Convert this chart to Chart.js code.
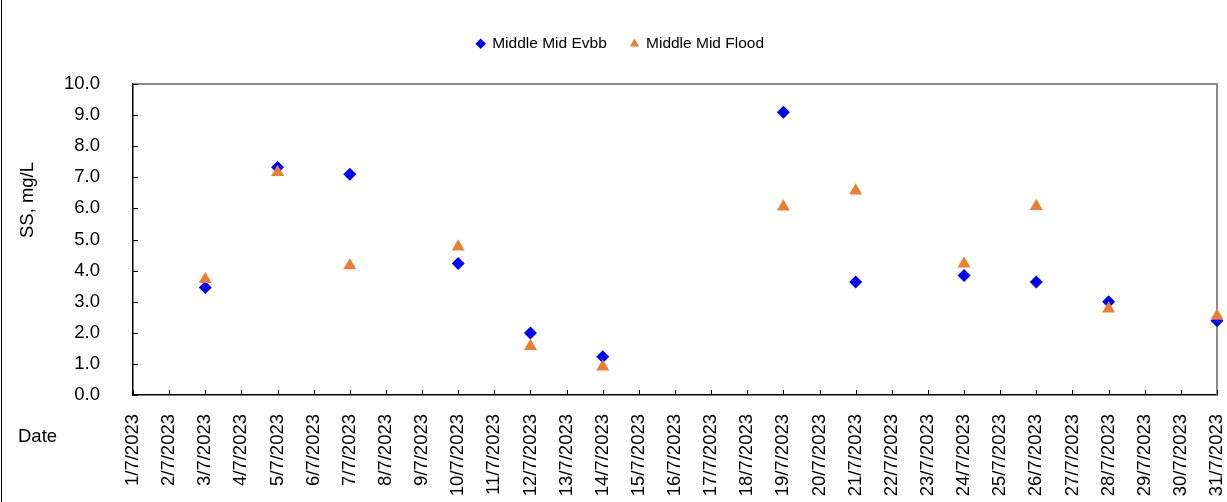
<!DOCTYPE html>
<html>
<head>
<meta charset="utf-8">
<script src="https://cdn.jsdelivr.net/npm/chart.js@4.4.1/dist/chart.umd.min.js"></script>
<style>
  html, body { margin: 0; padding: 0; background: #fff; }
</style>
</head>
<body>
<canvas id="chart" width="1227" height="502"></canvas>
<script>
const dateLabels = [
  '1/7/2023', '2/7/2023', '3/7/2023', '4/7/2023', '5/7/2023', '6/7/2023', '7/7/2023', '8/7/2023',
  '9/7/2023', '10/7/2023', '11/7/2023', '12/7/2023', '13/7/2023', '14/7/2023', '15/7/2023', '16/7/2023',
  '17/7/2023', '18/7/2023', '19/7/2023', '20/7/2023', '21/7/2023', '22/7/2023', '23/7/2023', '24/7/2023',
  '25/7/2023', '26/7/2023', '27/7/2023', '28/7/2023', '29/7/2023', '30/7/2023', '31/7/2023'
];
const sampleDates = ['3/7/2023', '5/7/2023', '7/7/2023', '10/7/2023', '12/7/2023', '14/7/2023',
  '19/7/2023', '21/7/2023', '24/7/2023', '26/7/2023', '28/7/2023', '31/7/2023'];
const ebbValues = [3.46, 7.32, 7.10, 4.23, 1.99, 1.23, 9.09, 3.63, 3.84, 3.63, 3.00, 2.39];
const floodValues = [3.72, 7.16, 4.16, 4.77, 1.57, 0.91, 6.05, 6.57, 4.22, 6.07, 2.77, 2.54];
const seriesNames = ['Middle Mid Evbb', 'Middle Mid Flood'];

const FONT = '"Liberation Sans", Arial, sans-serif';
Chart.defaults.font.family = FONT;
Chart.defaults.color = '#000';

const toPoints = vals => vals.map((v, i) => ({x: sampleDates[i], y: v}));

// tick marks point into the plot, plus grey top/right frame and loose texts
const framePlugin = {
  id: 'frame',
  afterInit(chart) {
    const legend = chart.legend;
    const fit = legend.fit;
    legend.fit = function() {
      fit.call(this);
      this.height = 72;
    };
  },
  beforeDatasetsDraw(chart) {
    const {ctx, chartArea: a, scales} = chart;
    ctx.save();
    ctx.strokeStyle = '#8c8c8c';
    ctx.lineWidth = 2;
    ctx.beginPath();
    ctx.moveTo(a.left, a.top);
    ctx.lineTo(a.right, a.top);
    ctx.lineTo(a.right, a.bottom);
    ctx.stroke();

    ctx.strokeStyle = '#000';
    ctx.lineWidth = 1;
    ctx.beginPath();
    scales.x.ticks.forEach((t, i) => {
      const px = Math.round(scales.x.getPixelForTick(i)) + 0.5;
      ctx.moveTo(px, a.bottom);
      ctx.lineTo(px, a.bottom - 5);
    });
    scales.y.ticks.forEach((t, i) => {
      const py = Math.round(scales.y.getPixelForTick(i)) + 0.5;
      ctx.moveTo(a.left, py);
      ctx.lineTo(a.left + 5, py);
    });
    ctx.stroke();
    ctx.restore();
  },
  afterDraw(chart) {
    const ctx = chart.ctx;
    ctx.save();
    ctx.strokeStyle = '#000';
    ctx.lineWidth = 1;
    ctx.beginPath();
    ctx.moveTo(1.5, 0);
    ctx.lineTo(1.5, chart.height);
    ctx.stroke();

    ctx.fillStyle = '#000';
    ctx.font = '18.5px ' + FONT;
    ctx.textBaseline = 'middle';
    ctx.textAlign = 'left';
    ctx.fillText('Date', 18, 437);

    ctx.translate(28, 200);
    ctx.rotate(-Math.PI / 2);
    ctx.textAlign = 'center';
    ctx.fillText('SS, mg/L', 0, 0);
    ctx.restore();
  }
};

new Chart(document.getElementById('chart'), {
  type: 'line',
  data: {
    labels: dateLabels,
    datasets: [
      {
        label: seriesNames[0],
        data: toPoints(ebbValues),
        showLine: false,
        pointStyle: 'rectRot',
        pointRadius: 6.5,
        pointHoverRadius: 6.5,
        backgroundColor: '#0000ff',
        borderColor: '#0000ff',
        pointBorderWidth: 0,
        order: 1
      },
      {
        label: seriesNames[1],
        data: toPoints(floodValues),
        showLine: false,
        pointStyle: 'triangle',
        pointRadius: 7.5,
        pointHoverRadius: 7.5,
        backgroundColor: '#ed7d31',
        borderColor: '#ed7d31',
        pointBorderWidth: 0,
        order: 0
      }
    ]
  },
  options: {
    responsive: false,
    animation: false,
    layout: {padding: {top: 12, right: 10, left: 24, bottom: 0}},
    plugins: {
      tooltip: {enabled: false},
      legend: {
        position: 'top',
        labels: {
          usePointStyle: true,
          boxWidth: 7.5,
          boxHeight: 7.5,
          padding: 24,
          color: '#000',
          font: {size: 15.5},
          sort: (a, b) => a.datasetIndex - b.datasetIndex
        }
      }
    },
    scales: {
      x: {
        type: 'category',
        offset: false,
        grid: {display: false},
        border: {color: '#000', width: 1.5},
        ticks: {
          autoSkip: false,
          minRotation: 90,
          maxRotation: 90,
          padding: 11,
          color: '#000',
          font: {size: 18.5}
        },
        afterFit(scale) {
          scale.height = 107;
          scale.paddingLeft = 0;
          scale.paddingRight = 0;
        }
      },
      y: {
        min: 0,
        max: 10,
        grid: {display: false},
        border: {color: '#000', width: 1.5},
        ticks: {
          stepSize: 1,
          padding: 25,
          color: '#000',
          font: {size: 18.5},
          callback: v => v.toFixed(1)
        },
        afterFit(scale) { scale.width = 109; }
      }
    }
  },
  plugins: [framePlugin]
});
</script>
</body>
</html>
